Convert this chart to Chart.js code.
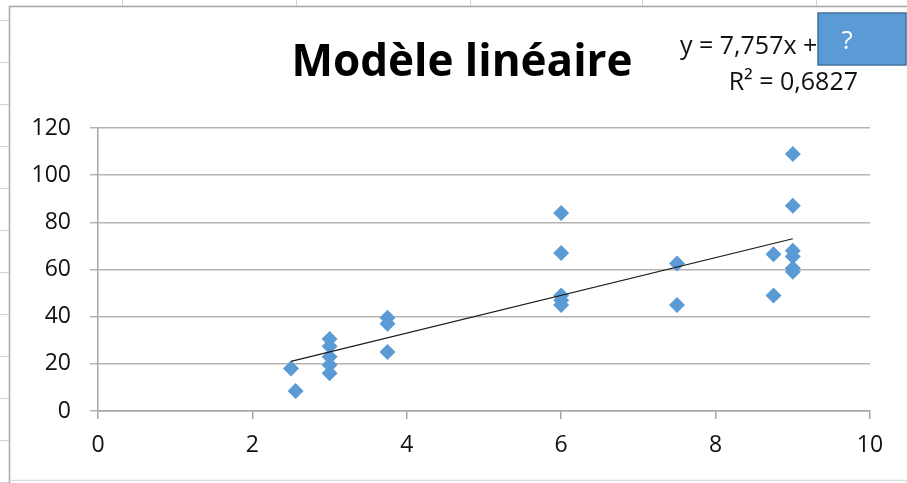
<!DOCTYPE html>
<html>
<head>
<meta charset="utf-8">
<script src="https://cdn.jsdelivr.net/npm/chart.js@4.4.0/dist/chart.umd.min.js"></script>
<style>
  html, body { margin: 0; padding: 0; background: #ffffff; }
  #box { width: 907px; height: 483px; }
</style>
</head>
<body>
<div id="box"><canvas id="modeleChart"></canvas></div>
<script>
// points
const xValues = [2.5, 2.56, 3, 3, 3, 3, 3, 3.75, 3.75, 3.75, 6, 6, 6, 6, 6, 7.5, 7.5, 8.75, 8.75, 9, 9, 9, 9, 9, 9];
const yValues = [18, 8.5, 30.5, 27.5, 23, 19.5, 16, 39.5, 37, 25, 84, 67, 49, 47, 45, 62.5, 45, 66.5, 49, 109, 87, 68, 65.5, 60.5, 59];

const titleText = 'Modèle linéaire';
const equationText = 'y = 7,757x +';
const r2Text = 'R² = 0,6827';
const boxText = '?';

// least squares trend line over the points
const n = xValues.length;
const mx = xValues.reduce((a, b) => a + b, 0) / n;
const my = yValues.reduce((a, b) => a + b, 0) / n;
let sxy = 0, sxx = 0;
for (let i = 0; i < n; i++) {
    sxy += (xValues[i] - mx) * (yValues[i] - my);
    sxx += (xValues[i] - mx) * (xValues[i] - mx);
}
const slope = sxy / sxx;
const intercept = my - slope * mx;
const xMin = Math.min(...xValues);
const xMax = Math.max(...xValues);

const points = xValues.map((x, i) => ({ x: x, y: yValues[i] }));
const trend = [xMin, xMax].map(x => ({ x: x, y: slope * x + intercept }));

const FONT = '"Open Sans", "DejaVu Sans", sans-serif';

// sheet background, title, equation label and the blue box
const decor = {
    id: 'decor',
    beforeDraw(chart) {
        const c = chart.ctx;
        c.save();
        c.strokeStyle = '#d4d4d4';
        c.lineWidth = 1;
        [122, 296, 470, 642, 816].forEach(x => {
            c.beginPath(); c.moveTo(x + 0.5, 0); c.lineTo(x + 0.5, 6); c.stroke();
        });
        for (let y = 20.5; y < 483; y += 42) {
            c.beginPath(); c.moveTo(0, y); c.lineTo(9, y); c.stroke();
        }
        c.strokeStyle = '#a6a6a6';
        c.lineWidth = 1.5;
        c.beginPath();
        c.moveTo(9.5, 483); c.lineTo(9.5, 6.5); c.lineTo(907, 6.5);
        c.stroke();
        c.strokeStyle = '#dcdcdc';
        c.beginPath(); c.moveTo(9.5, 480.5); c.lineTo(907, 480.5); c.stroke();
        c.restore();
    },
    afterDraw(chart) {
        const c = chart.ctx;
        c.save();
        c.fillStyle = '#000000';
        c.textBaseline = 'alphabetic';
        c.font = 'bold 44px ' + FONT;
        c.textAlign = 'center';
        c.fillText(titleText, 462, 76);

        c.font = '25px ' + FONT;
        c.fillStyle = '#111111';
        c.textAlign = 'left';
        c.fillText(equationText, 680, 54);
        c.textAlign = 'right';
        c.fillText(r2Text, 858, 90);

        c.fillStyle = '#5b9bd5';
        c.fillRect(818, 13, 88, 52);
        c.strokeStyle = '#41719c';
        c.lineWidth = 1.5;
        c.strokeRect(818, 13, 88, 52);
        c.fillStyle = '#ffffff';
        c.font = '26px ' + FONT;
        c.textAlign = 'center';
        c.textBaseline = 'middle';
        c.fillText(boxText, 847, 42);
        c.restore();
    }
};

const ctx = document.getElementById('modeleChart');

new Chart(ctx, {
    type: 'scatter',
    data: {
        datasets: [{
            label: 'points',
            data: points,
            pointStyle: 'rectRot',
            pointRadius: 8,
            pointBackgroundColor: '#5b9bd5',
            pointBorderColor: '#5b9bd5',
            pointBorderWidth: 0,
            order: 2
        }, {
            type: 'line',
            label: 'tendance',
            data: trend,
            borderColor: '#1a1a1a',
            borderWidth: 1.25,
            pointRadius: 0,
            fill: false,
            order: 1
        }]
    },
    options: {
        responsive: true,
        maintainAspectRatio: false,
        animation: false,
        layout: {
            padding: { top: 128, right: 37, left: 0, bottom: 0 }
        },
        plugins: {
            legend: { display: false },
            tooltip: { enabled: false },
            title: { display: false }
        },
        scales: {
            x: {
                type: 'linear',
                min: 0,
                max: 10,
                afterFit(scale) { scale.height = 72; },
                ticks: {
                    stepSize: 2,
                    color: '#111111',
                    padding: 13,
                    maxRotation: 0,
                    font: { family: FONT, size: 23 }
                },
                grid: {
                    drawOnChartArea: false,
                    drawTicks: true,
                    tickLength: 8,
                    color: '#a6a6a6',
                    lineWidth: 1.5
                },
                border: { color: '#a6a6a6', width: 1.5 }
            },
            y: {
                min: 0,
                max: 120,
                afterFit(scale) { scale.width = 98; },
                ticks: {
                    stepSize: 20,
                    color: '#111111',
                    padding: 19,
                    font: { family: FONT, size: 23 }
                },
                grid: {
                    color: '#b4b4b4',
                    lineWidth: 1.5,
                    tickLength: 8
                },
                border: { color: '#a6a6a6', width: 1.5 }
            }
        }
    },
    plugins: [decor]
});
</script>
</body>
</html>
